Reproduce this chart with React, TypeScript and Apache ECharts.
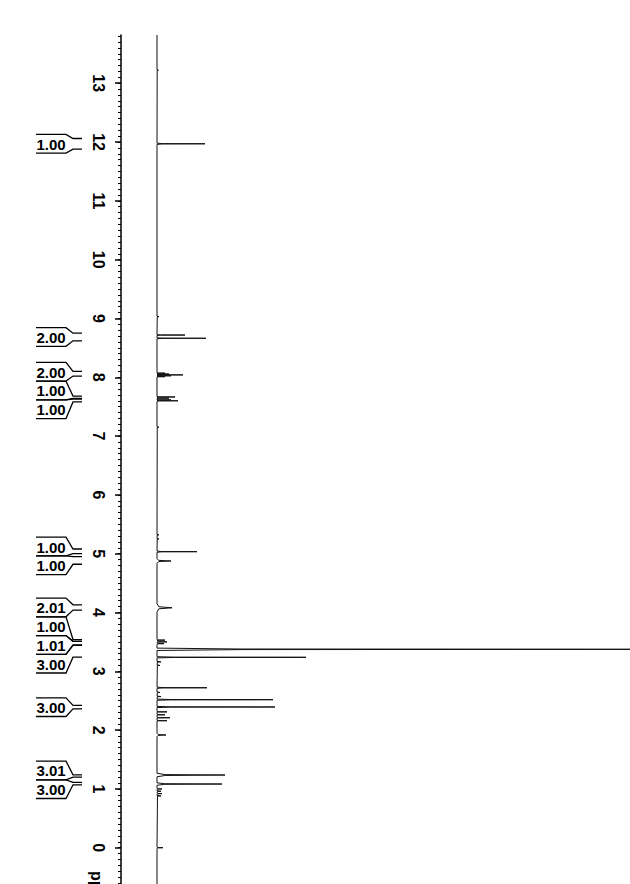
import React, { useEffect, useRef } from "react";
import * as echarts from "echarts";

// ---- axis (chemical shift, ppm) ----
const ppmMin = -0.617;
const ppmMax = 13.82;
const intensityMax = 473;
const majorTickPpm = [0, 1, 2, 3, 4, 5, 6, 7, 8, 9, 10, 11, 12, 13];
const minorTickPpm: number[] = [];
for (let k = -6; k <= 138; k++) minorTickPpm.push(k / 10);

// ---- peaks (ppm, height, half width at base in ppm) ----
const peakPpm = [
  13.22, 11.97, 9.03, 8.718, 8.663, 8.07, 8.055, 8.04, 8.025, 8.01,
  7.665, 7.645, 7.615, 7.6, 7.15, 5.32, 5.25, 5.034, 4.876, 4.08,
  3.53, 3.5, 3.47, 3.374, 3.238, 3.16, 3.1, 2.72, 2.64, 2.57,
  2.517, 2.393, 2.31, 2.26, 2.21, 2.16, 1.917, 1.236, 1.083, 1.0,
  0.96, 0.92, 0.88, 0.0,
];
const peakHeight = [
  1.5, 48, 2, 28, 49, 8, 12, 26, 14, 8,
  18, 12, 14, 21, 2, 2, 2, 40, 14, 15,
  8, 10, 7, 700, 149, 4, 3, 50, 3, 4,
  116, 118, 10, 8, 13, 10, 9, 68, 65, 5,
  4, 5, 4, 6,
];
const peakHalfWidth = [
  0.008, 0.01, 0.008, 0.008, 0.008, 0.006, 0.006, 0.006, 0.006, 0.006,
  0.007, 0.007, 0.007, 0.007, 0.008, 0.008, 0.008, 0.01, 0.04, 0.07,
  0.01, 0.01, 0.01, 0.02, 0.01, 0.008, 0.008, 0.01, 0.008, 0.008,
  0.01, 0.01, 0.008, 0.008, 0.008, 0.008, 0.03, 0.03, 0.02, 0.01,
  0.01, 0.01, 0.01, 0.01,
];

// ---- integrals (ppm from, ppm to, value) ----
const integralFrom = [12.06, 8.75, 8.1, 7.68, 7.63, 5.08, 4.95, 4.13, 3.54, 3.51, 3.44, 2.42, 1.24, 1.11];
const integralTo = [11.88, 8.62, 8.02, 7.64, 7.58, 5.0, 4.82, 4.04, 3.51, 3.45, 3.24, 2.36, 1.2, 1.07];
const integralValue = ["1.00", "2.00", "2.00", "1.00", "1.00", "1.00", "1.00", "2.01", "1.00", "1.01", "3.00", "3.00", "3.01", "3.00"];

const FONT = '"Liberation Sans", Arial, Helvetica, sans-serif';

function buildSpectrum(): number[][] {
  const order = peakPpm.map((_, i) => i).sort((a, b) => peakPpm[b] - peakPpm[a]);
  const pts: number[][] = [[0, ppmMax]];
  for (const i of order) {
    const p = peakPpm[i];
    const h = peakHeight[i];
    const w = peakHalfWidth[i];
    pts.push([0, p + w]);
    pts.push([h * 0.12, p + w * 0.25]);
    pts.push([h, p]);
    pts.push([h * 0.12, p - w * 0.25]);
    pts.push([0, p - w]);
  }
  pts.push([0, ppmMin]);
  return pts;
}

export default function App() {
  const ref = useRef<HTMLDivElement>(null);
  useEffect(() => {
    const chart = echarts.init(ref.current!, null, { renderer: "svg" });
    chart.setOption({
      animation: false,
      backgroundColor: "#ffffff",
      grid: { left: 157, right: 0, top: 35, bottom: 0, containLabel: false },
      xAxis: { type: "value", min: 0, max: intensityMax, show: false },
      yAxis: [
        {
          type: "value",
          min: ppmMin,
          max: ppmMax,
          position: "left",
          offset: 36,
          axisLine: { show: true, onZero: false, lineStyle: { color: "#000", width: 1.5 } },
          axisTick: { show: true, inside: false, length: 6, customValues: majorTickPpm, lineStyle: { color: "#000", width: 1.5 } },
          axisLabel: {
            show: true,
            customValues: majorTickPpm,
            rotate: -90,
            margin: 15,
            color: "#000",
            fontSize: 16,
            fontWeight: "bold",
            fontFamily: FONT,
          },
          splitLine: { show: false },
        },
        {
          type: "value",
          min: ppmMin,
          max: ppmMax,
          position: "left",
          offset: 36,
          axisLine: { show: false, onZero: false },
          axisTick: { show: true, inside: false, length: 3, customValues: minorTickPpm, lineStyle: { color: "#000", width: 1 } },
          axisLabel: { show: false },
          splitLine: { show: false },
        },
      ],
      series: [
        {
          type: "line",
          xAxisIndex: 0,
          yAxisIndex: 0,
          data: buildSpectrum(),
          symbol: "none",
          clip: true,
          lineStyle: { color: "#111", width: 1 },
        },
      ],
    });

    // integral labels, placed from the ppm axis scale
    const px = (v: number) => chart.convertToPixel({ yAxisIndex: 0 }, v) as number;
    const H = 18.7;
    const desired = integralFrom.map((f, i) => (px(f) + px(integralTo[i])) / 2);
    let groups = desired.map((c, i) => ({ idx: [i], center: c }));
    let changed = true;
    while (changed) {
      changed = false;
      for (let g = 0; g < groups.length - 1; g++) {
        const a = groups[g];
        const b = groups[g + 1];
        if (a.center + (a.idx.length * H) / 2 > b.center - (b.idx.length * H) / 2 + 0.01) {
          const idx = a.idx.concat(b.idx);
          const center = idx.reduce((s, k) => s + desired[k], 0) / idx.length;
          groups.splice(g, 2, { idx, center });
          changed = true;
          break;
        }
      }
    }
    const elements: any[] = [];
    const lineStyle = { stroke: "#000", lineWidth: 1.3, fill: null };
    for (const g of groups) {
      const top = g.center - (g.idx.length * H) / 2;
      g.idx.forEach((k, j) => {
        const yTop = top + j * H;
        const yBot = yTop + H;
        const yA = px(integralFrom[k]);
        const yB = px(integralTo[k]);
        elements.push({
          type: "polyline",
          shape: { points: [[36, yTop], [66, yTop], [73, yA], [82, yA]] },
          style: lineStyle,
          silent: true,
        });
        elements.push({
          type: "polyline",
          shape: { points: [[36, yBot], [66, yBot], [73, yB], [82, yB]] },
          style: lineStyle,
          silent: true,
        });
        elements.push({
          type: "text",
          x: 51,
          y: (yTop + yBot) / 2 + 0.5,
          style: {
            text: integralValue[k],
            fill: "#000",
            font: `bold 15px ${FONT}`,
            textAlign: "center",
            textVerticalAlign: "middle",
          },
          silent: true,
        });
      });
    }
    elements.push({
      type: "text",
      x: 96,
      y: 871,
      rotation: -Math.PI / 2,
      style: {
        text: "ppm",
        fill: "#000",
        font: `bold 16px ${FONT}`,
        textAlign: "left",
        textVerticalAlign: "middle",
      },
      silent: true,
    });
    chart.setOption({ graphic: { elements } });

    return () => chart.dispose();
  }, []);
  return (
    <div
      ref={ref}
      style={{ position: "fixed", left: 0, top: 0, width: 630, height: 884, background: "#fff" }}
    />
  );
}
